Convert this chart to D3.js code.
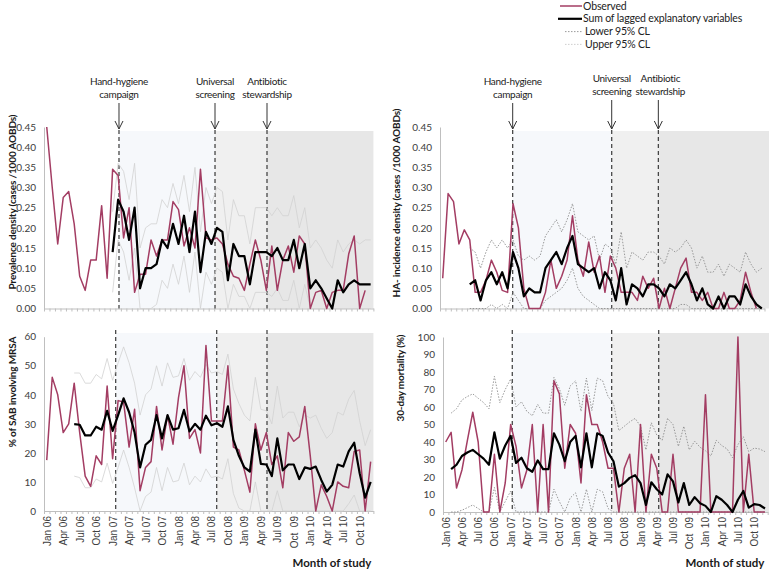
<!DOCTYPE html>
<html><head><meta charset="utf-8">
<script src="https://cdn.jsdelivr.net/npm/d3@7"></script>
<style>
body{margin:0;background:#fff;}
svg{display:block;font-family:Lato,"Open Sans",sans-serif;}
</style></head><body>
<svg id="c" width="769" height="570"></svg>
<script>
// ---------- categories ----------
const monthNames = ["Jan","Feb","Mar","Apr","May","Jun","Jul","Aug","Sep","Oct","Nov","Dec"];
const yearCodes = ["06","07","08","09","10"];
const months = yearCodes.flatMap(y => monthNames.map(m => m + " " + y));
const tickLabels = ["Jan 06","Apr 06","Jul 06","Oct 06","Jan 07","Apr 07","Jul 07","Oct 07","Jan 08","Apr 08","Jul 08","Oct 08","Jan 09","Apr 09","Jul 09","Oct  09","Jan 10","Apr 10","Jul 10","Oct 10"];
const interventions = ["Hand-hygiene campaign","Universal screening","Antibiotic stewardship"];
const legendLabels = ["Observed","Sum of lagged explanatory variables","Lower 95% CL","Upper 95% CL"];
const N = null;

// ---------- Prevalence density (top left) ----------
const prevObserved = [0.45,0.30,0.16,0.275,0.29,0.21,0.08,0.045,0.12,0.12,0.255,0.075,
 0.345,0.33,0.175,0.25,0.04,0.085,0.085,0.17,0.13,0.17,0.17,0.265,
 0.245,0.155,0.20,0.15,0.345,0.175,0.17,0.175,0.16,0.11,0.08,0.075,
 0.045,0.11,0.17,0.12,0.045,0.155,0.045,0.12,0.155,0.09,0.18,0.16,
 0.0,0.04,0.045,0.0,0.04,0.045,0.045,0.135,0.18,0.0,0.045,N];
const prevLagged = [N,N,N,N,N,N,N,N,N,N,N,N,
 0.14,0.27,0.24,0.17,0.25,0.05,0.10,0.10,0.11,0.17,0.15,0.21,
 0.16,0.23,0.14,0.24,0.09,0.19,0.16,0.20,0.19,0.07,0.16,0.13,
 0.13,0.06,0.14,0.14,0.14,0.13,0.15,0.12,0.12,0.17,0.10,0.16,
 0.05,0.07,0.05,0.025,0.0,0.07,0.04,0.06,0.07,0.06,0.06,0.06];
const prevLower = [N,N,N,N,N,N,N,N,N,N,N,N,
 0.04,0.17,0.14,0.07,0.15,0.0,0.0,0.0,0.01,0.07,0.05,0.11,
 0.06,0.13,0.04,0.14,0.0,0.09,0.06,0.10,0.09,0.0,0.06,0.03,
 0.03,0.0,0.04,0.04,0.04,0.03,0.05,0.02,0.02,0.07,0.0,0.06,
 0.0,0.0,0.0,0.0,0.0,0.0,0.0,0.0,0.0,0.0,0.0,0.0];
const prevUpper = [N,N,N,N,N,N,N,N,N,N,N,N,
 0.24,0.36,0.34,0.27,0.36,0.15,0.20,0.21,0.21,0.27,0.25,0.31,
 0.26,0.33,0.24,0.35,0.19,0.30,0.26,0.30,0.29,0.17,0.27,0.23,
 0.23,0.16,0.25,0.25,0.25,0.23,0.25,0.23,0.23,0.28,0.20,0.25,
 0.15,0.17,0.15,0.12,0.10,0.17,0.14,0.16,0.17,0.16,0.17,0.17];

// ---------- HA-incidence density (top right) ----------
const incObserved = [0.075,0.285,0.265,0.16,0.195,0.17,0.04,0.04,0.07,0.12,0.09,0.045,
 0.04,0.26,0.20,0.05,0.0,0.0,0.0,0.04,0.12,0.05,0.08,0.12,
 0.23,0.12,0.08,0.165,0.09,0.13,0.04,0.13,0.10,0.04,0.04,0.04,
 0.02,0.08,0.05,0.075,0.0,0.05,0.0,0.05,0.10,0.125,0.04,0.04,
 0.02,0.04,0.0,0.0,0.04,0.0,0.0,0.02,0.09,0.04,0.0,N];
const incLagged = [N,N,N,N,N,0.06,0.07,0.02,0.07,0.09,0.06,0.09,
 0.05,0.14,0.10,0.03,0.05,0.04,0.04,0.10,0.12,0.14,0.11,0.15,
 0.18,0.11,0.10,0.09,0.10,0.05,0.09,0.07,0.02,0.10,0.01,0.06,
 0.05,0.03,0.06,0.06,0.05,0.03,0.06,0.05,0.07,0.09,0.06,0.02,
 0.05,0.01,0.0,0.03,0.0,0.03,0.03,0.01,0.06,0.03,0.01,0.0];
const incLower = [N,N,N,N,N,0.0,0.0,0.0,0.0,0.01,0.0,0.01,
 0.0,0.04,0.02,0.0,0.0,0.0,0.0,0.02,0.03,0.04,0.05,0.07,
 0.10,0.05,0.03,0.02,0.01,0.0,0.0,0.0,0.0,0.0,0.0,0.0,
 0.0,0.0,0.0,0.0,0.0,0.0,0.0,0.0,0.01,0.01,0.0,0.0,
 0.0,0.0,0.0,0.0,0.0,0.0,0.0,0.0,0.0,0.0,0.0,0.0];
const incUpper = [N,N,N,N,N,0.15,0.14,0.10,0.14,0.17,0.15,0.17,
 0.15,0.17,0.13,0.12,0.13,0.12,0.13,0.18,0.20,0.22,0.19,0.22,
 0.26,0.19,0.18,0.17,0.18,0.12,0.16,0.15,0.11,0.19,0.10,0.14,
 0.13,0.12,0.14,0.14,0.13,0.11,0.15,0.14,0.15,0.17,0.15,0.10,
 0.13,0.09,0.09,0.11,0.08,0.11,0.10,0.09,0.14,0.11,0.09,0.10];

// ---------- % of SAB involving MRSA (bottom left) ----------
const mrsaObserved = [17.5,46,40,27,30,44,27,12,8.5,19,16,43,
 18,38,37.5,22,35,7,15,17,36,21,33,23,
 39,50,25,28,20,57,31,31,31,50,22,21,
 14,6.5,30,21,27,16,19,8,27,24,25.5,36,
 19,0,9,5,0,10,8.5,8,20.5,21,0,17];
const mrsaLagged = [N,N,N,N,N,29.9,29.7,26,26,29,28,34.5,
 27.6,33,38.8,34,27,15,22.8,24.5,33,25,33,28,
 28.5,34.8,27.4,30,28,32.8,29.5,30.2,29,36,24.5,19,
 15,13.6,28,16.2,16,12,25,14,16,16,11,15,
 14.5,15.3,10.7,6.7,9,16,15.3,20.5,23.5,13,4.6,10];
const mrsaLower = [N,N,N,N,N,12,11.5,8,8,11,10,16.5,
 9.5,15,21,15,8,0,5,6.5,15,7,15,10,
 10.5,16.5,9,12,10,14.5,11.5,12,11,18,6,1,
 0,0,10,0,0,0,7,0,0,0,0,0,
 0,0,0,0,0,0,0,2.5,5.5,0,0,0];
const mrsaUpper = [N,N,N,N,N,47.5,47.5,44,44,47,45.5,52.5,
 45,51,56.5,51,44,33,40,42,50,43,51,46,
 46.5,52.5,45,48,46,50.5,47.5,48,47,54,42,37,
 33,31,46,35,34.5,30,43,32,34,34,29,33,
 32,33,28.5,25,27,34,33,38.5,41.5,31,22.5,28];

// ---------- 30-day mortality (bottom right) ----------
const mortObserved = [40,45.5,13.7,24,40.8,57,40,0,0,33,0,16.6,
 50,37.5,13.7,24,50,0,50,0,75,67.5,25,50,
 45,16.6,67,50,50,40,25,25,0,25,33,0,
 50,0,33,25,0,0,33,0,0,0,0,0,
 67,0,0,0,0,0,100,0,33,0,0,0];
const mortLagged = [N,24.5,27,32,34,35.5,33,30.5,27,45.5,30.5,38,
 43.5,28,31,25,23,29.5,24.5,24.5,45,38.5,29,40,
 43.5,25.5,45,25.5,45,43.5,34,29,14.5,16.5,19.5,21,
 16.5,4,17,13,10,21.5,17.5,5.5,16.5,4,8.5,5,
 3.5,0,9,7,4,0,7,12,2.5,4.5,4,2];
const mortLower = [N,0,0,1,2.5,4,2,0,0,14,0,6,
 12,0,0,0,0,0,0,0,13,6,0,8,
 11,0,13,0,13,11.5,2,0,0,0,0,0,
 0,0,0,0,0,0,0,0,0,0,0,0,
 0,0,0,0,0,0,0,0,0,0,0,0];
const mortUpper = [N,56.5,59,64,66,67.5,65,62.5,59,77.5,62.5,70,
 76,60,63,57.5,55,61.5,56.5,56.5,77,70.5,61,72,
 75,57.5,76.5,58,76.5,75,66,62,46.5,49,51.5,53.5,
 49,35.5,51,44,41,53.5,50,37.5,49,35.5,40.5,37,
 35,32,41,38,36,31,38.5,43,34.5,36.5,36,34.5];

// intervention timing per panel (fractional month index)
const intervTL = [13.16,30.65,40.12];
const intervBL = [12.56,30.96,40.12];
const intervTR = [12.94,31.25,39.87];
const intervBR = [12.3,30.67,39.36];

// ---------- drawing ----------
const svg = d3.select("#c");
const RED = "#a33d63";
const TXT = "#404040";

const panels = [
 {obs:prevObserved, lag:prevLagged, lo:prevLower, hi:prevUpper, interv:intervTL,
  xr:[44,373.4], yr:[308.5,127], dom:[0,0.45], step:0.05, fmt:".2f", ci:"solid",
  shadeTop:131, shadeRight:373.4, vTop:130,
  title:"Prevalence density (cases /1000 AOBDs)", tx:12, ty:202, labels:false, arrows:true},
 {obs:incObserved, lag:incLagged, lo:incLower, hi:incUpper, interv:intervTR,
  xr:[440,764.5], yr:[308.5,127], dom:[0,0.45], step:0.05, fmt:".2f", ci:"dot",
  shadeTop:131, shadeRight:769, vTop:130,
  title:"HA- incidence density (cases /1000 AOBDs)", tx:396, ty:203, labels:false, arrows:true},
 {obs:mrsaObserved, lag:mrsaLagged, lo:mrsaLower, hi:mrsaUpper, interv:intervBL,
  xr:[44,373.4], yr:[511,336.7], dom:[0,60], step:10, fmt:"d", ci:"solid",
  shadeTop:333, shadeRight:373.4, vTop:330,
  title:"% of SAB involving MRSA", tx:12, ty:392, labels:true, arrows:false},
 {obs:mortObserved, lag:mortLagged, lo:mortLower, hi:mortUpper, interv:intervBR,
  xr:[443,767.7], yr:[512,337], dom:[0,100], step:10, fmt:"d", ci:"dot",
  shadeTop:333, shadeRight:769, vTop:330,
  title:"30-day mortality (%)", tx:400, ty:378, labels:true, arrows:false}
];

const shadeColors = ["#f6f8fb","#f0f0f0","#e7e7e7"];

panels.forEach(p => {
  const x = d3.scaleLinear().domain([-0.5, 59.5]).range(p.xr);
  const y = d3.scaleLinear().domain(p.dom).range(p.yr);
  const g = svg.append("g");
  const y0 = y(0);

  // shading
  const bounds = [x(p.interv[0]), x(p.interv[1]), x(p.interv[2]), p.shadeRight];
  for (let k = 0; k < 3; k++) {
    g.append("rect").attr("x", bounds[k]).attr("y", p.shadeTop)
      .attr("width", bounds[k+1]-bounds[k]).attr("height", y0 - p.shadeTop)
      .attr("fill", shadeColors[k]);
  }

  // y axis
  const ticks = d3.range(p.dom[0], p.dom[1] + p.step/2, p.step);
  const ya = g.append("g").attr("transform", `translate(${p.xr[0]},0)`)
    .call(d3.axisLeft(y).tickValues(ticks).tickFormat(d3.format(p.fmt)).tickSize(0).tickPadding(8));
  ya.select(".domain").attr("stroke", "#bfbfbf");
  ya.selectAll("text").attr("fill", TXT).style("font-size", "10px").style("font-family","Lato,sans-serif");

  // x axis with monthly tick marks
  const xa = g.append("g").attr("transform", `translate(0,${y0})`)
    .call(d3.axisBottom(x).tickValues(d3.range(61).map(i => i - 0.5)).tickFormat("").tickSize(3).tickSizeOuter(0));
  xa.select(".domain").attr("stroke", "#bfbfbf");
  xa.selectAll(".tick line").attr("stroke", "#bfbfbf");

  if (p.labels) {
    const xl = g.append("g").attr("transform", `translate(0,${y0})`)
      .call(d3.axisBottom(x).tickValues(d3.range(0, 60, 3)).tickFormat((d, i) => tickLabels[i]).tickSize(0).tickPadding(0));
    xl.select(".domain").remove();
    xl.selectAll("text").attr("fill", TXT).style("font-size", "10px")
      .attr("text-anchor", "end").attr("transform", "rotate(-90)")
      .attr("x", -5).attr("y", 0).attr("dy", "0.35em").style("white-space","pre");
  }

  // intervention dashed lines
  p.interv.forEach(v => {
    g.append("line").attr("x1", x(v)).attr("x2", x(v)).attr("y1", p.vTop).attr("y2", y0)
      .attr("stroke", "#3a3a3a").attr("stroke-width", 1.2).attr("stroke-dasharray", "4,3");
  });

  const line = d3.line().defined(d => d[1] != null).x(d => x(d[0])).y(d => y(d[1]));
  const pts = arr => arr.map((v, i) => [i, v]);

  // confidence limits
  [p.lo, p.hi].forEach(arr => {
    const path = g.append("path").attr("d", line(pts(arr))).attr("fill", "none");
    if (p.ci === "solid") path.attr("stroke", "#d2d2d2").attr("stroke-width", 0.8);
    else path.attr("stroke", "#8f8f8f").attr("stroke-width", 0.9).attr("stroke-dasharray", "1.5,1.5");
  });
  g.append("path").attr("d", line(pts(p.obs))).attr("fill", "none")
    .attr("stroke", RED).attr("stroke-width", 1.5).attr("stroke-linejoin","round");
  g.append("path").attr("d", line(pts(p.lag))).attr("fill", "none")
    .attr("stroke", "#000").attr("stroke-width", 2.2).attr("stroke-linejoin","round");

  // axis title
  svg.append("text").attr("transform", `translate(${p.tx},${p.ty}) rotate(-90)`)
    .attr("text-anchor", "middle").attr("dy", "0.35em")
    .style("font-size", "10px").style("font-weight", "bold").style("letter-spacing", "-0.15px")
    .attr("fill", "#1a1a1a").text(p.title);

  if (p.labels) {
    svg.append("text").attr("x", p.xr[0] === 44 ? 332 : 725).attr("y", 567)
      .attr("text-anchor", "middle").style("font-size", "11.5px").style("font-weight", "bold")
      .attr("fill", "#1a1a1a").text("Month of study");
  }

  // arrows and intervention labels
  if (p.arrows) {
    const right = p.xr[0] > 300;
    p.interv.forEach((v, k) => {
      const ax = x(v);
      const words = interventions[k].split(" ");
      const lift = (right && k > 0) ? 3 : 0;
      const tx = (right && k === 2) ? ax + 2 : ax;
      const t = svg.append("text").attr("text-anchor", "middle").style("font-size", "10px")
        .style("letter-spacing", "-0.3px").attr("fill", "#222");
      t.append("tspan").attr("x", tx).attr("y", 85 - lift).text(words[0]);
      t.append("tspan").attr("x", tx).attr("y", 98 - lift).text(words[1]);
      svg.append("line").attr("x1", ax).attr("x2", ax).attr("y1", 103 - lift).attr("y2", 129)
        .attr("stroke", "#333").attr("stroke-width", 1);
      svg.append("path").attr("d", `M${ax-4},${121} L${ax},${129} L${ax+4},${121}`)
        .attr("fill", "none").attr("stroke", "#333").attr("stroke-width", 1);
    });
  }
});

// legend
const lg = svg.append("g");
const legendStyles = [
  {stroke: RED, w: 1.5, dash: null, x1: 560},
  {stroke: "#000", w: 2.2, dash: null, x1: 558},
  {stroke: "#8f8f8f", w: 0.9, dash: "1.5,1.5", x1: 565},
  {stroke: "#c8c8c8", w: 0.9, dash: "1.5,1.5", x1: 565}
];
legendLabels.forEach((lab, k) => {
  const yy = 6 + k * 12.8;
  const s = legendStyles[k];
  const l = lg.append("line").attr("x1", s.x1).attr("x2", 582).attr("y1", yy).attr("y2", yy)
    .attr("stroke", s.stroke).attr("stroke-width", s.w);
  if (s.dash) l.attr("stroke-dasharray", s.dash);
  lg.append("text").attr("x", k < 2 ? 583 : 585).attr("y", yy).attr("dy", "0.35em")
    .style("font-size", "10.5px").style("letter-spacing", "-0.15px").attr("fill", "#222").text(lab);
});
</script>
</body></html>
